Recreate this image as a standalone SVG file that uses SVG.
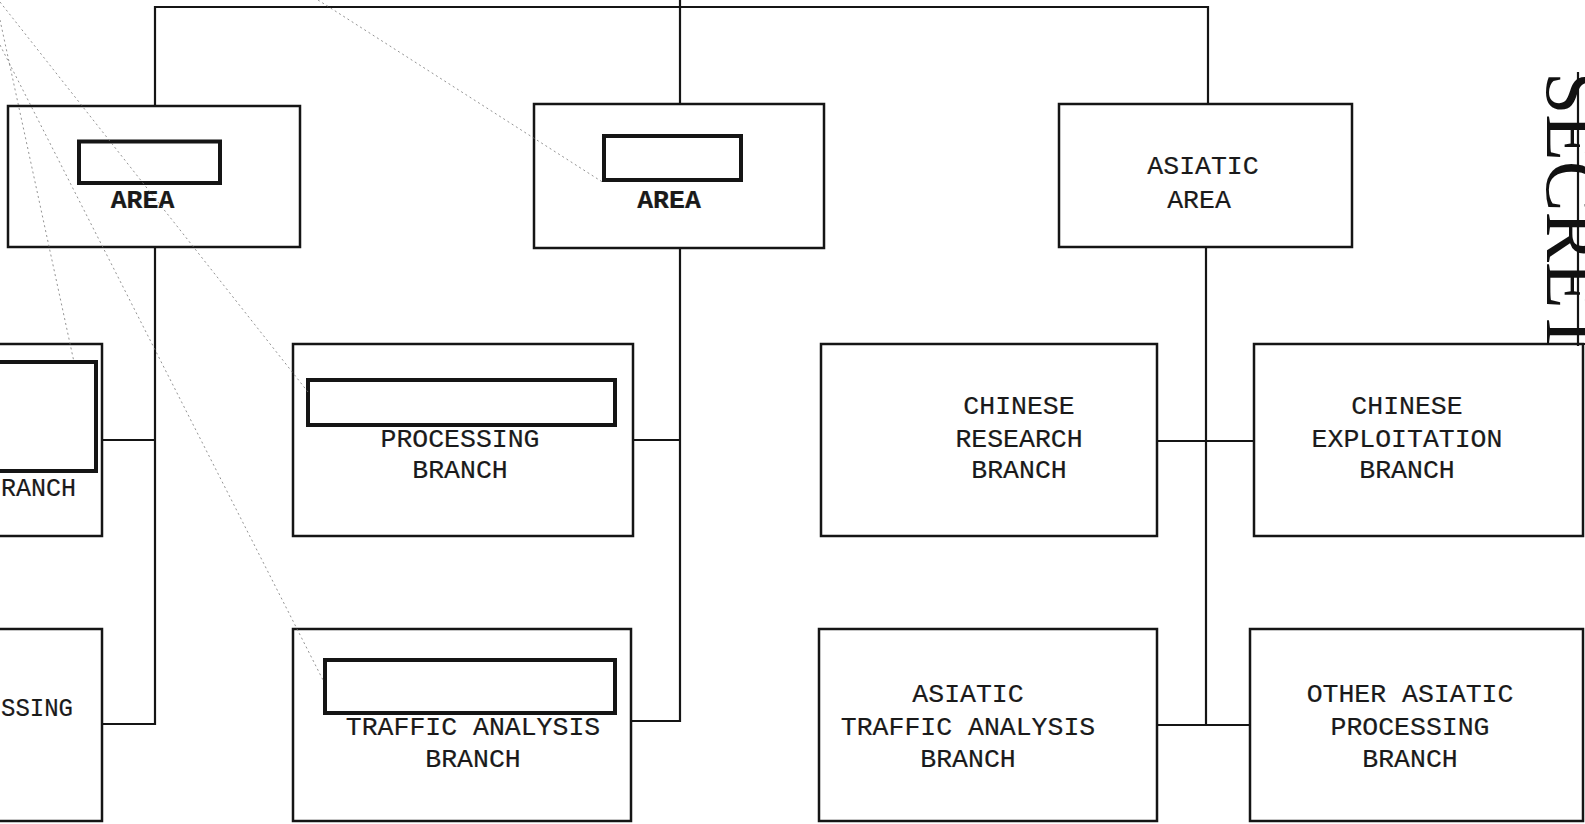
<svg xmlns="http://www.w3.org/2000/svg" width="1585" height="824" viewBox="0 0 1585 824">
<style>
.box{fill:#fff;stroke:#151515;stroke-width:2.5}
.red{fill:none;stroke:#151515;stroke-width:4}
.con{fill:none;stroke:#151515;stroke-width:2.2}
.dot{fill:none;stroke:#777;stroke-width:0.8;stroke-dasharray:2 3}
.t{font-family:"Liberation Mono","DejaVu Sans Mono",monospace;font-size:26.5px;fill:#1a1a1a;stroke:#1a1a1a;stroke-width:0.2;text-anchor:middle}
.b{font-weight:bold}
.s{font-family:"Liberation Serif","Times New Roman",serif;font-size:76px;fill:#111}
</style>
<rect width="1585" height="824" fill="#fff"/>
<g id="connectors">
<path class="con" d="M680 0 V104"/>
<path class="con" d="M155 106 V7 H1208 V104"/>
<path class="con" d="M155 247 V724 H102"/>
<path class="con" d="M155 440 H102"/>
<path class="con" d="M680 248 V721 H631"/>
<path class="con" d="M680 440 H633"/>
<path class="con" d="M1206 247 V725"/>
<path class="con" d="M1157 441 H1254"/>
<path class="con" d="M1157 725 H1250"/>
</g>
<g id="area-left">
<rect class="box" x="8" y="106" width="292" height="141"/>
<rect class="red" x="79" y="141.5" width="141" height="41.5"/>
<text class="t b" x="142.5" y="208">AREA</text>
</g>
<g id="area-middle">
<rect class="box" x="534" y="104" width="290" height="144"/>
<rect class="red" x="604" y="136" width="137" height="44"/>
<text class="t b" x="669" y="208">AREA</text>
</g>
<g id="area-asiatic">
<rect class="box" x="1059" y="104" width="293" height="143"/>
<text class="t" x="1203" y="174">ASIATIC</text>
<text class="t" x="1199" y="208">AREA</text>
</g>
<g id="branch-left-top">
<rect class="box" x="-10" y="344" width="112" height="192"/>
<rect class="red" x="-10" y="362" width="106" height="109"/>
<text class="t" x="1" y="496" style="text-anchor:start" textLength="75" lengthAdjust="spacingAndGlyphs">RANCH</text>
</g>
<g id="branch-left-bottom">
<rect class="box" x="-10" y="629" width="112" height="192"/>
<text class="t" x="1" y="716" style="text-anchor:start" textLength="72" lengthAdjust="spacingAndGlyphs">SSING</text>
</g>
<g id="processing-branch">
<rect class="box" x="293" y="344" width="340" height="192"/>
<rect class="red" x="308" y="380" width="307" height="45"/>
<text class="t" x="460" y="447">PROCESSING</text>
<text class="t" x="460" y="478">BRANCH</text>
</g>
<g id="traffic-analysis-branch">
<rect class="box" x="293" y="629" width="338" height="192"/>
<rect class="red" x="325" y="660" width="290" height="53"/>
<text class="t" x="473" y="735">TRAFFIC ANALYSIS</text>
<text class="t" x="473" y="767">BRANCH</text>
</g>
<g id="chinese-research-branch">
<rect class="box" x="821" y="344" width="336" height="192"/>
<text class="t" x="1019" y="414">CHINESE</text>
<text class="t" x="1019" y="447">RESEARCH</text>
<text class="t" x="1019" y="478">BRANCH</text>
</g>
<g id="chinese-exploitation-branch">
<rect class="box" x="1254" y="344" width="329" height="192"/>
<text class="t" x="1407" y="414">CHINESE</text>
<text class="t" x="1407" y="447">EXPLOITATION</text>
<text class="t" x="1407" y="478">BRANCH</text>
</g>
<g id="asiatic-traffic-analysis-branch">
<rect class="box" x="819" y="629" width="338" height="192"/>
<text class="t" x="968" y="702">ASIATIC</text>
<text class="t" x="968" y="735">TRAFFIC ANALYSIS</text>
<text class="t" x="968" y="767">BRANCH</text>
</g>
<g id="other-asiatic-processing-branch">
<rect class="box" x="1250" y="629" width="333" height="192"/>
<text class="t" x="1410" y="702">OTHER ASIATIC</text>
<text class="t" x="1410" y="735">PROCESSING</text>
<text class="t" x="1410" y="767">BRANCH</text>
</g>
<g id="marks">
<path class="dot" d="M0 20 L74 362"/>
<path class="dot" d="M0 45 L323 680"/>
<path class="dot" d="M0 2 L308 392"/>
<path class="dot" d="M318 0 L604 183"/>
<path class="con" d="M1578 72 V346"/>
<path class="con" d="M1500 344 H1585"/>
<text class="s" transform="translate(1547 72) rotate(90)">SECRET</text>
</g>
</svg>
